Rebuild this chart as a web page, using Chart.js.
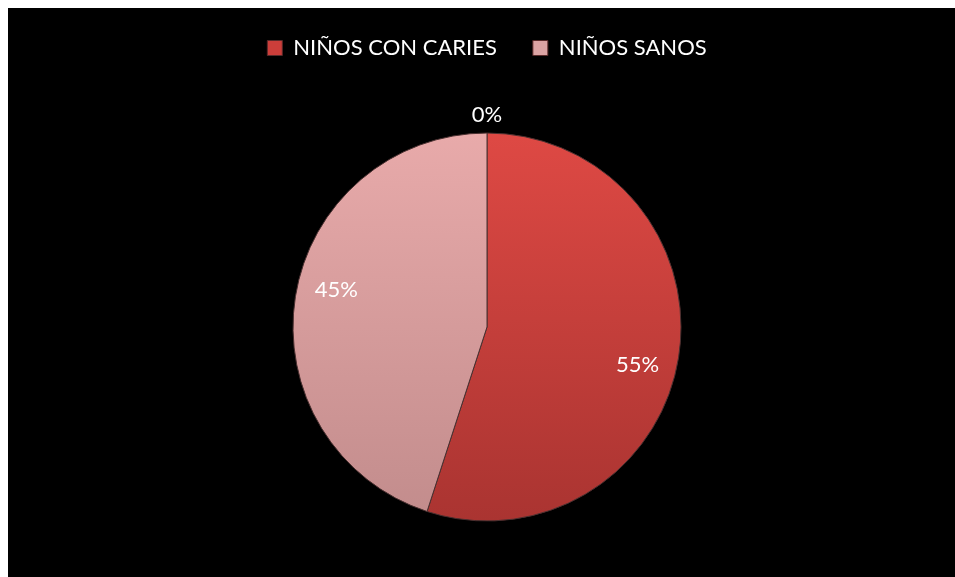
<!DOCTYPE html>
<html>
<head>
<meta charset="utf-8">
<script src="https://cdn.jsdelivr.net/npm/chart.js@4/dist/chart.umd.min.js"></script>
<style>
  html, body { margin: 0; padding: 0; background: #ffffff; }
  #wrap { position: absolute; left: 8px; top: 8px; width: 947px; height: 569px; background: #000000; }
</style>
</head>
<body>
<div id="wrap"><canvas id="grafico"></canvas></div>
<script>
// datos del grafico (porcentajes)
var categorias = ['NIÑOS CON CARIES', 'NIÑOS SANOS', ''];
var valores = [55, 45, 0];
var etiquetas = ['55%', '45%', '0%'];

// colores: arriba / abajo para el degradado
var coloresArriba = ['#de4944', '#e8aaaa', '#e8aaaa'];
var coloresAbajo = ['#aa3431', '#c28c8c', '#c28c8c'];
var coloresLeyenda = ['#cc3e3a', '#dba3a3'];

function degradado(ctx) {
    var chart = ctx.chart;
    var area = chart.chartArea;
    if (!area) return coloresArriba[ctx.dataIndex];
    var cy = (area.top + area.bottom) / 2;
    var g = chart.ctx.createLinearGradient(0, cy - 194, 0, cy + 194);
    g.addColorStop(0, coloresArriba[ctx.dataIndex]);
    g.addColorStop(1, coloresAbajo[ctx.dataIndex]);
    return g;
}

// agrega espacio debajo de la leyenda (para la etiqueta 0%)
var margenLeyenda = {
    id: 'margenLeyenda',
    beforeInit: function(chart) {
        var fit = chart.legend.fit;
        chart.legend.fit = function() {
            fit.bind(chart.legend)();
            this.height += 30;
        };
    }
};

// dibuja los porcentajes sobre cada porcion
var etiquetasPorcion = {
    id: 'etiquetasPorcion',
    afterDatasetsDraw: function(chart) {
        var ctx = chart.ctx;
        var meta = chart.getDatasetMeta(0);
        ctx.save();
        ctx.font = '22px Lato';
        ctx.fillStyle = '#ffffff';
        ctx.textAlign = 'center';
        ctx.textBaseline = 'middle';
        meta.data.forEach(function(arc, i) {
            var p = arc.getProps(['x', 'y', 'startAngle', 'endAngle', 'outerRadius'], true);
            var medio = (p.startAngle + p.endAngle) / 2;
            var r = p.outerRadius + 18;
            if (valores[i] !== 0) {
                medio += 5 * Math.PI / 180; // "mejor ajuste" un poco girado
                r = p.outerRadius * 0.8;
            }
            ctx.fillText(etiquetas[i], p.x + Math.cos(medio) * r, p.y + Math.sin(medio) * r);
        });
        ctx.restore();
    }
};

var ctx = document.getElementById('grafico').getContext('2d');
var miGrafico = new Chart(ctx, {
    type: 'pie',
    data: {
        labels: categorias,
        datasets: [{
            data: valores,
            backgroundColor: degradado,
            borderColor: '#4a3030',
            borderWidth: 1,
            radius: 194
        }]
    },
    options: {
        responsive: true,
        maintainAspectRatio: false,
        animation: false,
        layout: { padding: { top: -7, left: 11, right: 0, bottom: 22 } },
        plugins: {
            legend: {
                position: 'top',
                labels: {
                    color: '#ffffff',
                    font: { family: 'Lato', size: 22 },
                    boxWidth: 15,
                    boxHeight: 15,
                    padding: 36,
                    generateLabels: function(chart) {
                        var items = [];
                        for (var i = 0; i < categorias.length; i++) {
                            if (categorias[i] === '') continue;
                            items.push({
                                text: categorias[i],
                                fillStyle: coloresLeyenda[i],
                                strokeStyle: '#5a2a2a',
                                lineWidth: 1,
                                fontColor: '#ffffff',
                                index: i
                            });
                        }
                        return items;
                    }
                }
            },
            tooltip: { enabled: false }
        }
    },
    plugins: [margenLeyenda, etiquetasPorcion]
});
</script>
</body>
</html>
